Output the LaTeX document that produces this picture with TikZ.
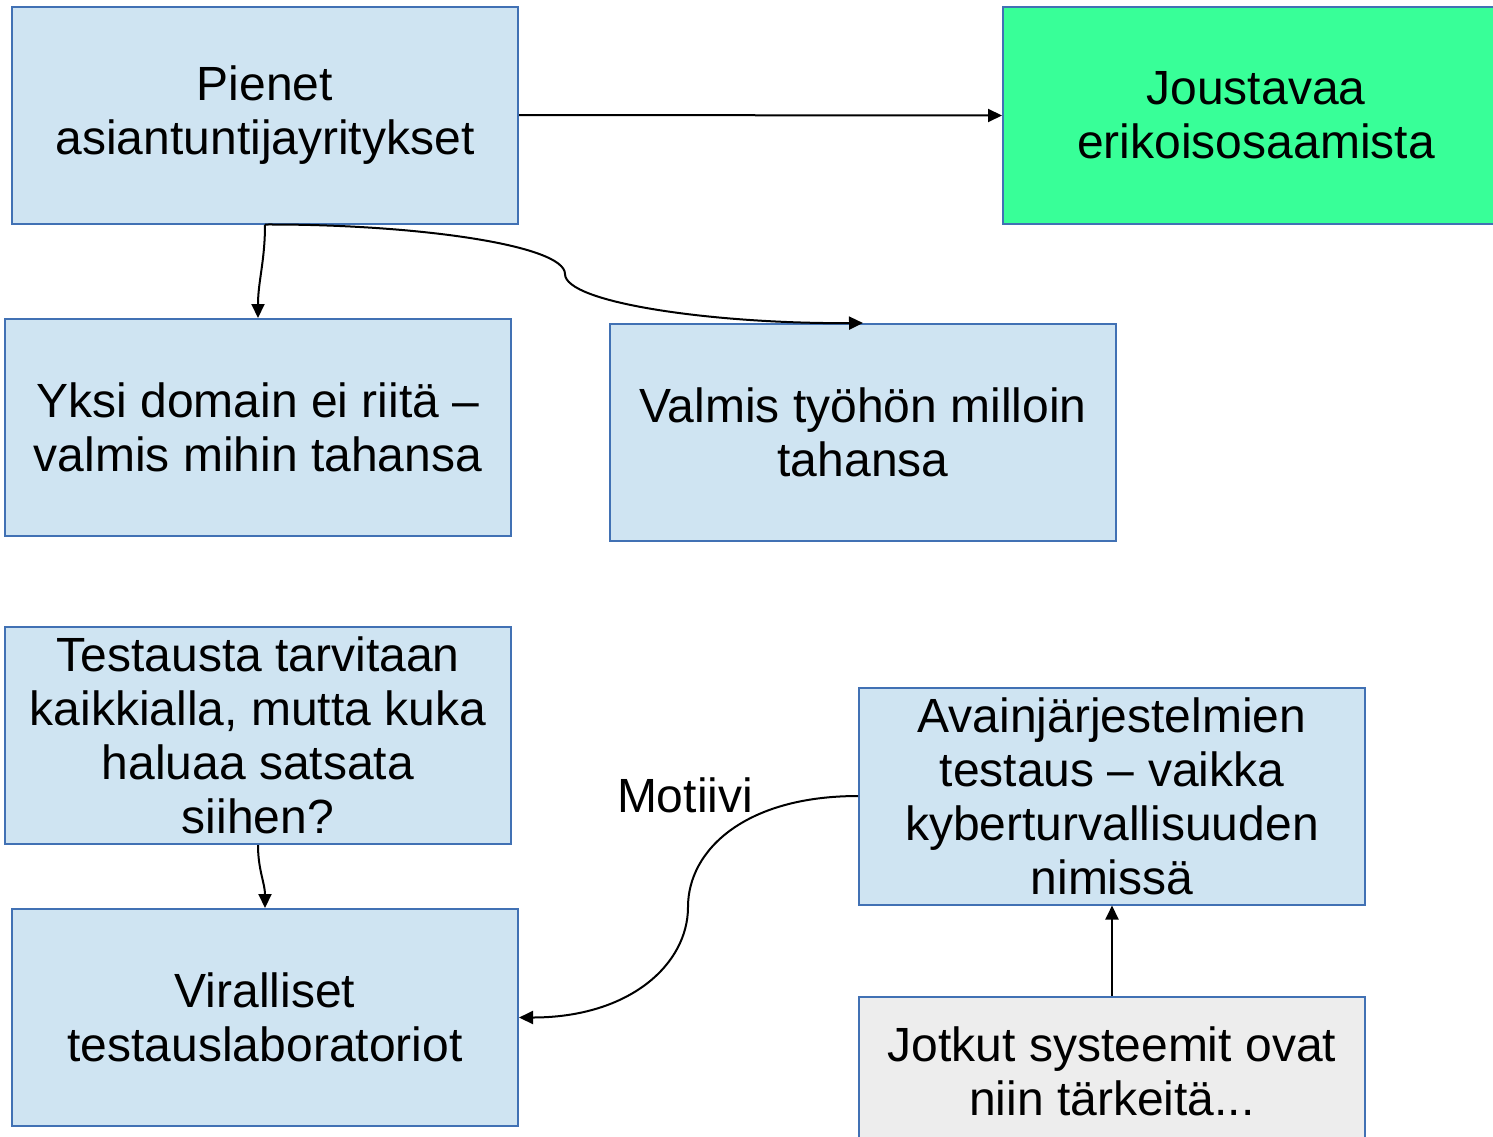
\documentclass[tikz,border=0pt]{standalone}
\usepackage{fontspec}
\setmainfont{Liberation Sans}
\usetikzlibrary{arrows.meta}
\definecolor{boxfill}{RGB}{207,228,242}
\definecolor{boxline}{RGB}{65,113,180}
\definecolor{greenfill}{RGB}{56,255,152}
\definecolor{greyfill}{RGB}{237,237,237}
\tikzset{
  card/.style={draw=boxline, line width=1pt, fill=boxfill,
    minimum width=253pt, minimum height=108.5pt, inner sep=0pt,
    align=center, font=\fontsize{24}{27}\selectfont},
  link/.style={line width=1pt, -{Triangle[length=7pt,width=6.5pt]}},
}
\begin{document}
\begin{tikzpicture}[x=0.5pt,y=-0.5pt]
\useasboundingbox (0,0) rectangle (1493,1136);

\node[card] (pienet) at (265,115) {Pienet\\asiantuntijayritykset};
\node[card, fill=greenfill] (jous) at (1256,115.5) {Joustavaa\\erikoisosaamista};
\node[card] (yksi) at (258,427.5) {Yksi domain ei riitä –\\valmis mihin tahansa};
\node[card] (valmis) at (863,432.5) {Valmis työhön milloin\\tahansa};
\node[card] (test) at (258,735.5) {Testausta tarvitaan\\kaikkialla, mutta kuka\\haluaa satsata\\siihen?};
\node[card] (viral) at (265,1017.5) {Viralliset\\testauslaboratoriot};
\node[card] (avain) at (1112,796) {Avainjärjestelmien\\testaus – vaikka\\kyberturvallisuuden\\nimissä};
\node[card, fill=greyfill, minimum height=74pt] (jotkut) at (1112,1071) {Jotkut systeemit ovat\\niin tärkeitä...};
\node[font=\fontsize{24}{27}\selectfont] (motiivi) at (685,795) {Motiivi};

\draw[link] (pienet.east) -- (jous.west);
\draw[link] (pienet.south) to[out=-90,in=90] (yksi.north);
\draw[link] (pienet.south) .. controls (415,224) and (565,245) .. (565,274)
  .. controls (565,303) and (715,324) .. (valmis.north);
\draw[link] (test.south) to[out=-90,in=90] (viral.north);
\draw[link] (avain.west) .. controls (745,796) and (688,850) .. (688,907)
  .. controls (688,964) and (630,1017.5) .. (viral.east);
\draw[link] (jotkut.north) -- (avain.south);
\end{tikzpicture}
\end{document}
